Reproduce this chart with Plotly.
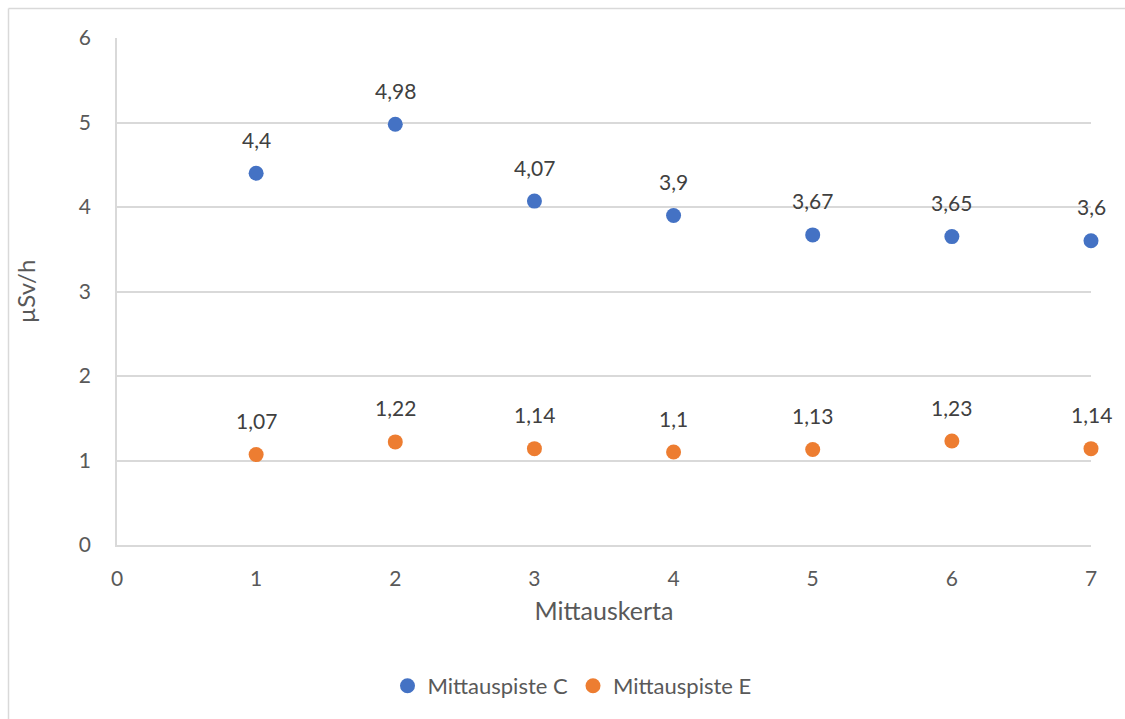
import plotly.graph_objects as go

# Measurement rounds and dose-rate readings (µSv/h)
kerta = [1, 2, 3, 4, 5, 6, 7]
piste_c = [4.4, 4.98, 4.07, 3.9, 3.67, 3.65, 3.6]
piste_e = [1.07, 1.22, 1.14, 1.1, 1.13, 1.23, 1.14]
x_ticks = [0, 1, 2, 3, 4, 5, 6, 7]
y_ticks = [0, 1, 2, 3, 4, 5, 6]

BLUE = "#4472C4"
ORANGE = "#ED7D31"
TEXT = "#595959"
LABEL = "#404040"
GRID = "#D9D9D9"
FONT = "Lato, Carlito, Calibri, sans-serif"


def fi(v):
    """Finnish decimal comma."""
    return f"{v:g}".replace(".", ",")


fig = go.Figure()
for name, vals, col in [("Mittauspiste C", piste_c, BLUE),
                        ("Mittauspiste E", piste_e, ORANGE)]:
    fig.add_trace(go.Scatter(
        x=kerta, y=vals, mode="markers", name=name,
        marker=dict(color=col, size=15),
        cliponaxis=False,
    ))
    for xv, yv in zip(kerta, vals):
        fig.add_annotation(
            x=xv, y=yv, text=fi(yv), showarrow=False,
            yshift=34, font=dict(size=21, color=LABEL, family=FONT),
        )

W, H = 1125, 719
ML, MR, MT, MB = 117, 34, 38, 174
pw, ph = W - ML - MR, H - MT - MB


def px(xp):
    return (xp - ML) / pw


def py(yp):
    return (H - MB - yp) / ph


# Chart-area frame (left and top edges)
fig.add_shape(type="line", xref="paper", yref="paper",
              x0=px(8.5), x1=px(1130), y0=py(8.5), y1=py(8.5),
              line=dict(color=GRID, width=1.5))
fig.add_shape(type="line", xref="paper", yref="paper",
              x0=px(8.5), x1=px(8.5), y0=py(8.5), y1=py(730),
              line=dict(color=GRID, width=1.5))

fig.update_layout(
    width=W, height=H,
    margin=dict(l=ML, r=MR, t=MT, b=MB),
    paper_bgcolor="white", plot_bgcolor="white",
    font=dict(family=FONT, size=21, color=TEXT),
    showlegend=True,
    legend=dict(orientation="h", x=px(572), xanchor="center",
                y=py(686), yanchor="middle",
                font=dict(size=22, color=TEXT, family=FONT),
                itemwidth=30, itemsizing="trace",
                tracegroupgap=0),
    xaxis=dict(
        range=[0, 7], tickvals=x_ticks, ticktext=[str(v) for v in x_ticks],
        showgrid=False, zeroline=False,
        showline=True, linecolor=GRID, linewidth=1.5,
        ticks="", ticklen=0,
        ticklabelstandoff=14,
        tickfont=dict(size=21, color=TEXT),
        title=dict(text="Mittauskerta", font=dict(size=25, color=TEXT),
                   standoff=14),
    ),
    yaxis=dict(
        range=[0, 6], tickvals=y_ticks, ticktext=[str(v) for v in y_ticks],
        showgrid=True, gridcolor=GRID, gridwidth=1.5,
        zeroline=False,
        showline=True, linecolor=GRID, linewidth=1.5,
        ticks="", tickfont=dict(size=21, color=TEXT),
        ticklabelstandoff=20,
        title=dict(text="µSv/h", font=dict(size=24, color=TEXT),
                   standoff=36),
    ),
)

fig.write_html("out.html")
